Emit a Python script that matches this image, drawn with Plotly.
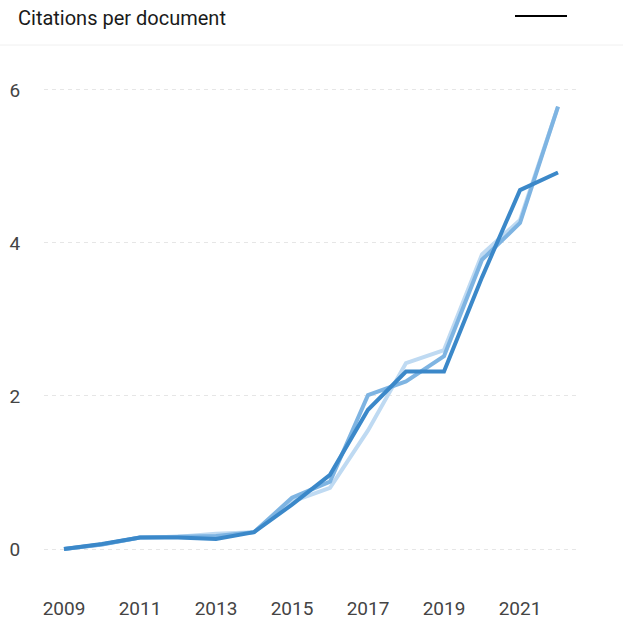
import plotly.graph_objects as go

years = list(range(2009, 2023))
series_light = [0.0, 0.06, 0.15, 0.16, 0.20, 0.22, 0.62, 0.80, 1.55, 2.43, 2.60, 3.85, 4.30, 5.78]
series_medium = [0.0, 0.06, 0.15, 0.16, 0.17, 0.22, 0.67, 0.88, 2.01, 2.19, 2.52, 3.78, 4.26, 5.78]
series_dark = [0.0, 0.065, 0.15, 0.15, 0.13, 0.22, 0.58, 0.97, 1.82, 2.32, 2.32, 3.55, 4.69, 4.92]
x_ticks = [2009, 2011, 2013, 2015, 2017, 2019, 2021]
y_ticks = [0, 2, 4, 6]
title_text = "Citations per document"

fig = go.Figure()
for vals, color in [(series_light, "#bfdaf2"), (series_medium, "#7eb4e2"), (series_dark, "#3b88c9")]:
    fig.add_trace(go.Scatter(x=years, y=vals, mode="lines",
                             line=dict(color=color, width=4), showlegend=False,
                             hoverinfo="skip"))

fig.update_layout(
    width=623, height=621,
    margin=dict(l=44, r=43, t=60, b=36, autoexpand=False),
    paper_bgcolor="white", plot_bgcolor="white",
    font=dict(family="Roboto", size=19, color="#444444"),
    showlegend=False,
    xaxis=dict(range=[2008.474, 2022.579], tickvals=x_ticks, showgrid=False,
               zeroline=False, showline=False, ticks="outside", ticklen=6,
               automargin=False,
               tickcolor="rgba(0,0,0,0)", tickfont=dict(size=19, color="#444444")),
    yaxis=dict(range=[-0.47, 6.39], tickvals=y_ticks, showgrid=True,
               gridcolor="#e6e6e6", griddash="4px,4px", gridwidth=1,
               zeroline=False, showline=False, ticks="outside", ticklen=19,
               automargin=False,
               tickcolor="rgba(0,0,0,0)", tickfont=dict(size=19, color="#444444")),
    shapes=[
        dict(type="line", xref="paper", yref="paper", x0=-44/536, x1=(623-44)/536,
             y0=1 + 15/525, y1=1 + 15/525, line=dict(color="#f0f0f0", width=1)),
        dict(type="line", xref="paper", yref="paper", x0=(515-44)/536, x1=(567-44)/536,
             y0=1 + 44/525, y1=1 + 44/525, line=dict(color="#000000", width=2)),
    ],
    annotations=[
        dict(text=title_text, xref="paper", yref="paper", x=-28/536, y=1 + 42/525,
             xanchor="left", yanchor="middle", showarrow=False,
             font=dict(family="Roboto", size=20, color="#1a1a1a")),
    ],
)

fig.write_html("out.html", config={"displayModeBar": False},
               post_script="document.body.style.margin='0';document.body.style.overflow='hidden';")
